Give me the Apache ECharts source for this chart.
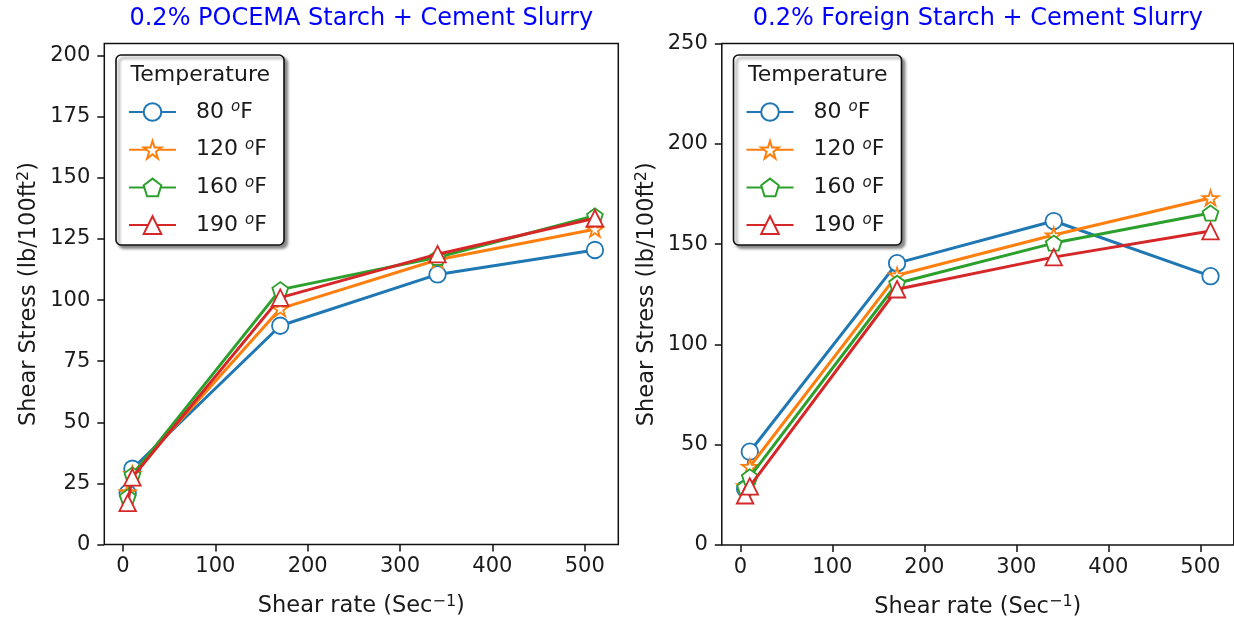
<!DOCTYPE html>
<html>
<head>
<meta charset="utf-8">
<script src="https://cdn.jsdelivr.net/npm/echarts@6/dist/echarts.min.js"></script>
<style>
  html, body { margin: 0; padding: 0; background: #fff; }
  #chart { width: 1234px; height: 624px; }
</style>
</head>
<body>
<div id="chart"></div>
<script>
// Viscometer shear rates (1/s)
const shearRate = [5.11, 10.22, 170.3, 340.6, 511];
const temperatures = ['80 °F', '120 °F', '160 °F', '190 °F'];

// Shear stress (lb/100ft²) — 0.2% POCEMA starch + cement slurry
const pocema80  = [21.0, 31.0, 89.5, 110.5, 120.5];
const pocema120 = [21.5, 29.0, 96.5, 116.5, 129.0];
const pocema160 = [19.5, 28.5, 104.3, 117.5, 134.5];
const pocema190 = [17.0, 27.5, 101.0, 118.8, 133.5];

// Shear stress (lb/100ft²) — 0.2% foreign starch + cement slurry
const foreign80  = [28.0, 46.5, 140.5, 161.5, 134.0];
const foreign120 = [29.5, 39.0, 134.5, 154.5, 173.0];
const foreign160 = [28.8, 34.0, 130.5, 150.5, 165.5];
const foreign190 = [24.8, 29.2, 127.5, 143.5, 156.5];

// Tick labels
const xTicks = [0, 100, 200, 300, 400, 500];
const yTicksLeft = [0, 25, 50, 75, 100, 125, 150, 175, 200];
const yTicksRight = [0, 50, 100, 150, 200, 250];

const titles = ['0.2% POCEMA Starch + Cement Slurry', '0.2% Foreign Starch + Cement Slurry'];

const colors = ['#1f77b4', '#ff7f0e', '#2ca02c', '#d62728'];
const STAR = 'path://M0 -100 L-22.45 -30.9 L-95.11 -30.9 L-36.33 11.8 L-58.78 80.9 L0 38.2 L58.78 80.9 L36.33 11.8 L95.11 -30.9 L22.45 -30.9 Z';
const PENTAGON = 'path://M0 -100 L-95.11 -30.9 L-58.78 80.9 L58.78 80.9 L95.11 -30.9 Z';
const symbols = ['circle', STAR, PENTAGON, 'triangle'];
const symbolSizes = [16.5, [15.8, 15.0], [15.8, 15.0], 16.5];

const FONT = '"DejaVu Sans", "Liberation Sans", sans-serif';
const TEXT = '#1a1a1a';
const FS = 21;

const panels = [
  { values: [pocema80, pocema120, pocema160, pocema190], yMax: 205, yTicks: yTicksLeft,
    grid: { left: 104.3, top: 43.5, width: 514, height: 501 } },
  { values: [foreign80, foreign120, foreign160, foreign190], yMax: 250, yTicks: yTicksRight,
    grid: { left: 721.8, top: 43.5, width: 512, height: 501.5 } }
];

const nameStyle = {
  fontSize: 22.5, fontFamily: FONT, color: TEXT,
  rich: { sup: { fontSize: 16, fontFamily: FONT, color: TEXT, padding: [0, 0, 10, 0] } }
};

const chart = echarts.init(document.getElementById('chart'), null, { renderer: 'canvas' });

const grids = [], xAxes = [], yAxes = [], series = [], legends = [], graphics = [];

panels.forEach((p, k) => {
  grids.push(Object.assign({ show: true, borderColor: '#111', borderWidth: 1.5, backgroundColor: 'transparent' }, p.grid));
  const tickStyle = { show: true, length: 7, inside: false, lineStyle: { color: '#111', width: 1.5 } };
  xAxes.push({
    type: 'value', gridIndex: k, min: -20.2, max: 536.3, position: 'bottom',
    axisLine: { show: false, onZero: false }, splitLine: { show: false },
    axisTick: Object.assign({ customValues: xTicks }, tickStyle),
    axisLabel: { customValues: xTicks, margin: 12, fontSize: FS, fontFamily: FONT, color: TEXT },
    name: 'Shear rate (Sec{sup|−1})', nameLocation: 'middle', nameGap: 49,
    nameTextStyle: nameStyle
  });
  yAxes.push({
    type: 'value', gridIndex: k, min: 0, max: p.yMax, position: 'left',
    axisLine: { show: false, onZero: false }, splitLine: { show: false },
    axisTick: Object.assign({ customValues: p.yTicks }, tickStyle),
    axisLabel: { customValues: p.yTicks, margin: 14, fontSize: FS, fontFamily: FONT, color: TEXT },
    name: 'Shear Stress (lb/100ft{sup|2})', nameLocation: 'middle', nameGap: 62,
    nameTextStyle: nameStyle
  });
  p.values.forEach((vals, i) => {
    series.push({
      type: 'line', name: temperatures[i], xAxisIndex: k, yAxisIndex: k,
      data: shearRate.map((x, j) => [x, vals[j]]),
      symbol: symbols[i], symbolSize: symbolSizes[i], showAllSymbol: true,
      lineStyle: { color: colors[i], width: 3 },
      itemStyle: { color: '#fff', borderColor: colors[i], borderWidth: 1.8 },
      emphasis: { disabled: true }, animation: false, z: 3 + i
    });
  });

  const gx = p.grid.left;
  // legend frame and heading
  graphics.push({
    type: 'rect', z: 20,
    shape: { x: gx + 11.7, y: 55, width: 168, height: 190, r: 5 },
    style: { fill: '#fff', stroke: '#111', lineWidth: 1.6, shadowBlur: 3, shadowOffsetX: 3, shadowOffsetY: 3, shadowColor: 'rgba(0,0,0,0.45)' }
  });
  graphics.push({
    type: 'text', z: 21,
    style: { text: 'Temperature', x: gx + 96, y: 75, align: 'center', verticalAlign: 'middle', font: '22px ' + FONT, fill: TEXT }
  });
  // panel title
  graphics.push({
    type: 'text', z: 21,
    style: { text: titles[k], x: gx + p.grid.width / 2, y: 19, align: 'center', verticalAlign: 'middle', font: '24px ' + FONT, fill: '#0000ff' }
  });

  legends.push({
    orient: 'vertical', left: gx + 23.7, top: 100, padding: 0,
    itemWidth: 47, itemHeight: 22, itemGap: 14.7, selectedMode: false, z: 30,
    data: temperatures,
    formatter: name => '{n|' + name.replace(' °F', ' ') + '}{s|o}{n|F}',
    textStyle: {
      color: TEXT, fontFamily: FONT, fontSize: 22, padding: [0, 0, 0, 15],
      rich: {
        n: { fontSize: 22, fontFamily: FONT, color: TEXT },
        s: { fontSize: 15, fontFamily: FONT, fontStyle: 'italic', color: TEXT, padding: [0, 0, 9, 0] }
      }
    }
  });
});

chart.setOption({
  animation: false,
  backgroundColor: '#fff',
  textStyle: { fontFamily: FONT },
  grid: grids, xAxis: xAxes, yAxis: yAxes,
  legend: legends, series: series,
  graphic: { elements: graphics }
});
</script>
</body>
</html>
